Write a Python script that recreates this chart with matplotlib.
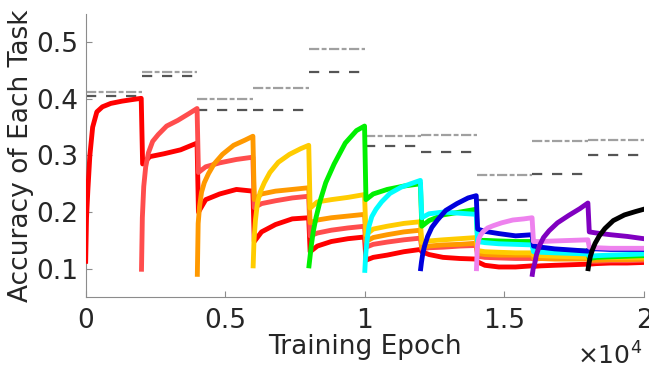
import matplotlib
matplotlib.use("Agg")
import matplotlib.pyplot as plt
import numpy as np

# ---------------- data ----------------
block_len = 2000
own_offsets = [0, 30, 80, 150, 250, 400, 600, 900, 1300, 1700, 1990]
old_offsets = [40, 300, 800, 1400, 1990]

task_colors = ["#ff0000", "#ff4d4d", "#ff9900", "#ffcc00", "#00f000",
               "#00ffff", "#0000dd", "#ee82ee", "#8000c0", "#000000"]

task0_own = [0.113, 0.19, 0.24, 0.30, 0.35, 0.377, 0.386, 0.392, 0.396, 0.399, 0.401]
task0_old = [
    [0.285, 0.298, 0.303, 0.310, 0.322],
    [0.200, 0.222, 0.232, 0.240, 0.237],
    [0.148, 0.165, 0.178, 0.188, 0.190],
    [0.130, 0.140, 0.148, 0.153, 0.156],
    [0.115, 0.120, 0.124, 0.130, 0.134],
    [0.130, 0.125, 0.120, 0.118, 0.117],
    [0.112, 0.106, 0.103, 0.103, 0.105],
    [0.104, 0.105, 0.106, 0.107, 0.108],
    [0.108, 0.109, 0.110, 0.110, 0.111],
]
task1_own = [0.099, 0.19, 0.245, 0.28, 0.305, 0.325, 0.337, 0.352, 0.362, 0.374, 0.383]
task1_old = [
    [0.270, 0.280, 0.287, 0.293, 0.297],
    [0.208, 0.215, 0.220, 0.225, 0.228],
    [0.158, 0.163, 0.168, 0.172, 0.175],
    [0.138, 0.143, 0.147, 0.151, 0.154],
    [0.135, 0.137, 0.138, 0.140, 0.141],
    [0.122, 0.120, 0.119, 0.118, 0.118],
    [0.117, 0.118, 0.119, 0.120, 0.121],
    [0.113, 0.113, 0.114, 0.114, 0.115],
]
task2_own = [0.09, 0.18, 0.21, 0.235, 0.252, 0.268, 0.285, 0.302, 0.318, 0.327, 0.334]
task2_old = [
    [0.222, 0.232, 0.237, 0.240, 0.243],
    [0.181, 0.186, 0.190, 0.193, 0.196],
    [0.148, 0.155, 0.160, 0.165, 0.168],
    [0.137, 0.140, 0.142, 0.143, 0.145],
    [0.127, 0.125, 0.124, 0.124, 0.124],
    [0.119, 0.118, 0.117, 0.117, 0.117],
    [0.115, 0.115, 0.116, 0.116, 0.117],
]
task3_own = [0.105, 0.15, 0.185, 0.215, 0.235, 0.252, 0.270, 0.288, 0.302, 0.312, 0.318]
task3_old = [
    [0.207, 0.218, 0.222, 0.226, 0.231],
    [0.160, 0.170, 0.175, 0.180, 0.183],
    [0.146, 0.149, 0.151, 0.153, 0.155],
    [0.132, 0.130, 0.129, 0.128, 0.128],
    [0.124, 0.123, 0.122, 0.121, 0.120],
    [0.120, 0.120, 0.120, 0.120, 0.120],
]
task4_own = [0.105, 0.118, 0.14, 0.165, 0.19, 0.22, 0.252, 0.285, 0.322, 0.344, 0.352]
task4_old = [
    [0.222, 0.232, 0.240, 0.246, 0.250],
    [0.175, 0.185, 0.195, 0.200, 0.205],
    [0.150, 0.150, 0.149, 0.148, 0.148],
    [0.135, 0.134, 0.133, 0.132, 0.131],
    [0.118, 0.120, 0.121, 0.122, 0.123],
]
task5_own = [0.097, 0.125, 0.15, 0.175, 0.192, 0.205, 0.218, 0.233, 0.244, 0.251, 0.256]
task5_old = [
    [0.190, 0.197, 0.200, 0.198, 0.196],
    [0.148, 0.146, 0.144, 0.143, 0.142],
    [0.130, 0.129, 0.128, 0.127, 0.126],
    [0.122, 0.123, 0.124, 0.125, 0.126],
]
task6_own = [0.10, 0.112, 0.128, 0.142, 0.157, 0.173, 0.186, 0.203, 0.215, 0.225, 0.229]
task6_old = [
    [0.170, 0.166, 0.162, 0.158, 0.160],
    [0.140, 0.138, 0.135, 0.133, 0.131],
    [0.135, 0.135, 0.134, 0.134, 0.134],
]
task7_own = [0.10, 0.14, 0.152, 0.16, 0.166, 0.172, 0.176, 0.181, 0.186, 0.188, 0.19]
task7_old = [
    [0.148, 0.148, 0.149, 0.150, 0.151],
    [0.138, 0.137, 0.136, 0.136, 0.136],
]
task8_own = [0.09, 0.10, 0.108, 0.125, 0.14, 0.155, 0.167, 0.181, 0.194, 0.206, 0.216]
task8_old = [
    [0.165, 0.163, 0.160, 0.157, 0.153],
]
task9_own = [0.10, 0.11, 0.122, 0.133, 0.145, 0.158, 0.171, 0.185, 0.195, 0.201, 0.205]
task9_old = []

tasks_own = [task0_own, task1_own, task2_own, task3_own, task4_own,
             task5_own, task6_own, task7_own, task8_own, task9_own]
tasks_old = [task0_old, task1_old, task2_old, task3_old, task4_old,
             task5_old, task6_old, task7_old, task8_old, task9_old]

# per-task reference levels (two horizontal lines per task)
ref_light = [0.413, 0.447, 0.400, 0.419, 0.489, 0.334, 0.336, 0.265, 0.325, 0.327]
ref_dark = [0.405, 0.441, 0.380, 0.380, 0.447, 0.316, 0.306, 0.222, 0.267, 0.300]

xtick_vals = [0, 5000, 10000, 15000, 20000]
xtick_labels = ["0", "0.5", "1", "1.5", "2"]
ytick_vals = [0.1, 0.2, 0.3, 0.4, 0.5]
ytick_labels = ["0.1", "0.2", "0.3", "0.4", "0.5"]

# ---------------- figure ----------------
plt.rcParams['font.family'] = ['DejaVu Sans']
fig = plt.figure(figsize=(6.49, 3.71), dpi=100)
ax = fig.add_axes([0.132, 0.1995, 0.8603, 0.7628])

text_color = "#262626"
spine_color = "#8c8c8c"

n_tasks = len(tasks_own)
for k in range(n_tasks):
    start = k * block_len
    xs = [start + o for o in own_offsets]
    ys = list(tasks_own[k])
    for j, blk in enumerate(tasks_old[k]):
        bstart = (k + 1 + j) * block_len
        xs += [bstart + o for o in old_offsets]
        ys += list(blk)
    ax.plot(xs, ys, color=task_colors[k], lw=3.5, solid_joinstyle='round',
            zorder=3 + k)

for k in range(n_tasks):
    x0, x1 = k * block_len, (k + 1) * block_len
    ax.plot([x0, x1], [ref_light[k]] * 2, color="#a0a0a0", lw=1.6,
            dashes=(4.6, 1.1, 2.2, 1.1), zorder=2)
    ax.plot([x0, x1], [ref_dark[k]] * 2, color="#555555", lw=1.6,
            dashes=(4.6, 4.4), zorder=2)

ax.set_xlim(0, 20000)
ax.set_ylim(0.05, 0.55)
ax.set_xticks(xtick_vals)
ax.set_xticklabels(xtick_labels)
ax.set_yticks(ytick_vals)
ax.set_yticklabels(ytick_labels)

for s in ["top", "right"]:
    ax.spines[s].set_visible(False)
for s in ["left", "bottom"]:
    ax.spines[s].set_color(spine_color)
    ax.spines[s].set_linewidth(0.8)

ax.tick_params(axis='both', direction='in', length=4.5, width=0.8,
               color=spine_color, labelsize=19, labelcolor=text_color)
ax.tick_params(axis='x', pad=8)
ax.tick_params(axis='y', pad=5)

ax.set_xlabel("Training Epoch", fontsize=19, color=text_color, labelpad=0)
ax.set_ylabel("Accuracy of Each Task", fontsize=19, color=text_color, labelpad=2)

fig.text(0.99, 0.004, r"$\times$10$^{4}$", ha='right', va='bottom',
         fontsize=18, color=text_color)

fig.savefig("out.png", dpi=100)
